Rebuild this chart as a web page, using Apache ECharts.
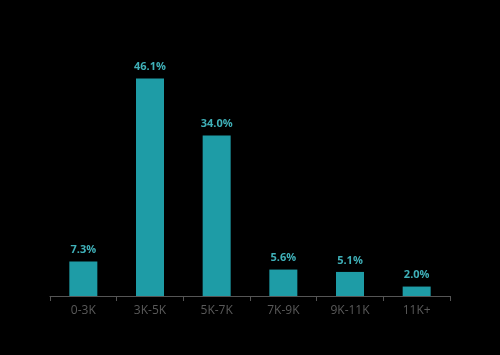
<!DOCTYPE html>
<html>
<head>
<meta charset="utf-8">
<script src="https://cdn.jsdelivr.net/npm/echarts@6/dist/echarts.min.js"></script>
<style>
html,body{margin:0;padding:0;background:#000;}
#main{width:500px;height:355px;}
</style>
</head>
<body>
<div id="main"></div>
<script>
var categories = ['0-3K', '3K-5K', '5K-7K', '7K-9K', '9K-11K', '11K+'];
var shares = [7.3, 46.1, 34.0, 5.6, 5.1, 2.0];

var myChart = echarts.init(document.getElementById('main'));
var option = {
    backgroundColor: '#000',
    animation: false,
    grid: { left: 50, right: 50, top: 60, bottom: 59 },
    xAxis: {
        type: 'category',
        data: categories,
        axisLine: { lineStyle: { color: '#555', width: 1 } },
        axisTick: { show: true, length: 5, lineStyle: { color: '#555' } },
        axisLabel: { color: '#5a5a5a', fontSize: 12, margin: 9, fontFamily: 'Open Sans' }
    },
    yAxis: {
        type: 'value',
        min: 0,
        max: 50,
        show: false
    },
    series: [{
        type: 'bar',
        data: shares,
        barWidth: 28,
        itemStyle: { color: '#1e9ca6' },
        label: {
            show: true,
            position: 'top',
            distance: 6,
            color: '#3fb0b8',
            fontSize: 11,
            fontWeight: 'bold',
            fontFamily: 'Open Sans',
            formatter: function (p) { return p.value.toFixed(1) + '%'; }
        }
    }]
};
myChart.setOption(option);
</script>
</body>
</html>
